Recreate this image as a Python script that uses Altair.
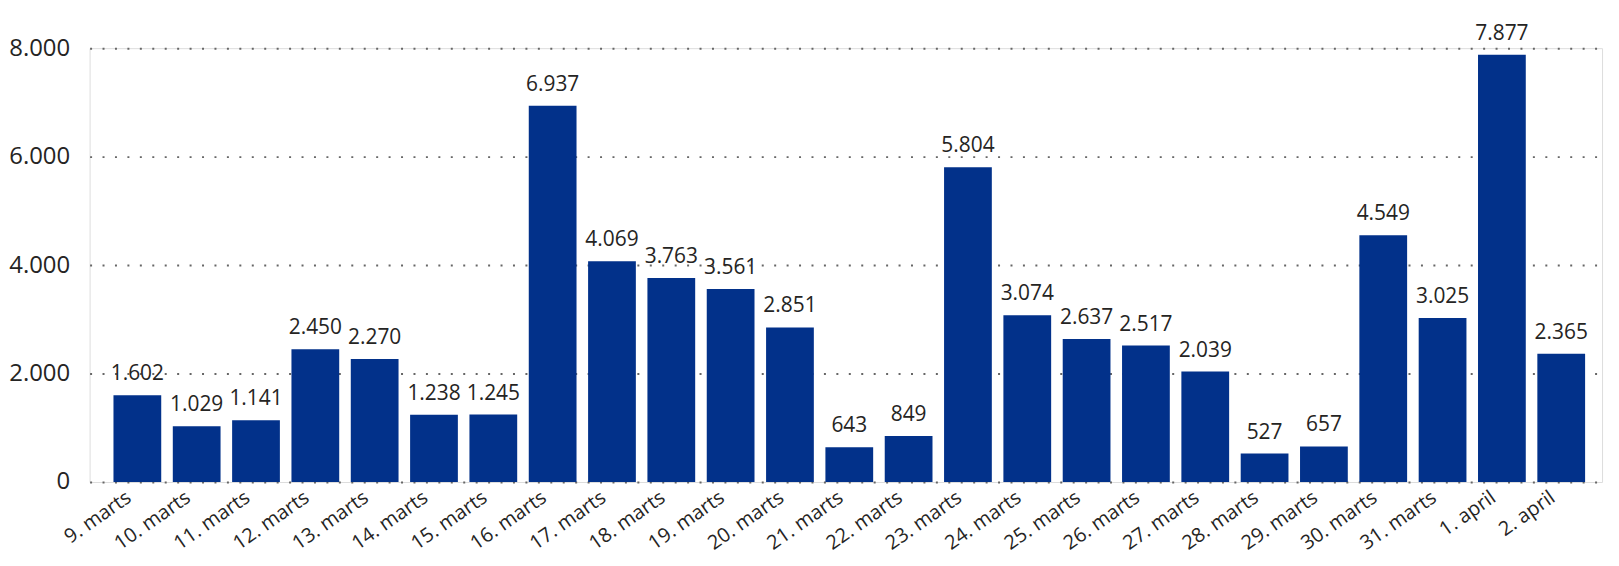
import altair as alt
import pandas as pd

days = ["9. marts", "10. marts", "11. marts", "12. marts", "13. marts", "14. marts",
        "15. marts", "16. marts", "17. marts", "18. marts", "19. marts", "20. marts",
        "21. marts", "22. marts", "23. marts", "24. marts", "25. marts", "26. marts",
        "27. marts", "28. marts", "29. marts", "30. marts", "31. marts", "1. april",
        "2. april"]
values = [1602, 1029, 1141, 2450, 2270, 1238, 1245, 6937, 4069, 3763, 3561, 2851,
          643, 849, 5804, 3074, 2637, 2517, 2039, 527, 657, 4549, 3025, 7877, 2365]
y_ticks = [0, 2000, 4000, 6000, 8000]

df = pd.DataFrame({"day": days, "value": values})

FONT = "Open Sans"
TXT = "#252423"
BAR = "#02318A"

x = alt.X("day:N", sort=days, title=None,
          scale=alt.Scale(paddingInner=0.195, paddingOuter=0.344, align=0.585),
          axis=alt.Axis(labelAngle=-35, labelFont=FONT, labelFontSize=20, labelColor=TXT,
                        ticks=False, domain=False, labelPadding=5, labelOffset=-14,
                        grid=False))
y = alt.Y("value:Q", title=None,
          scale=alt.Scale(domain=[0, 8000], nice=False),
          axis=alt.Axis(values=y_ticks, labelFont=FONT, labelFontSize=24, labelColor=TXT,
                        ticks=False, domain=False, labelPadding=20,
                        labelExpr="replace(format(datum.value, ','), ',', '.')",
                        grid=True, gridColor="#666666", gridWidth=2,
                        gridDash=[2, 10.5]))

bars = alt.Chart(df).mark_bar(color=BAR).encode(x=x, y=y)
labels = alt.Chart(df).transform_calculate(
    lab="replace(format(datum.value, ','), ',', '.')"
).mark_text(font=FONT, fontSize=21, color=TXT, baseline="alphabetic", dy=-15).encode(
    x=alt.X("day:N", sort=days), y="value:Q", text="lab:N")

chart = (bars + labels).properties(
    width=1520, height=436,
    autosize=alt.AutoSizeParams(type="none"),
    padding={"left": 82, "top": 39, "right": 9, "bottom": 75},
).configure_view(stroke=None).configure(background="white")

chart.save("out.html", embed_options={"renderer": "svg", "actions": False})
